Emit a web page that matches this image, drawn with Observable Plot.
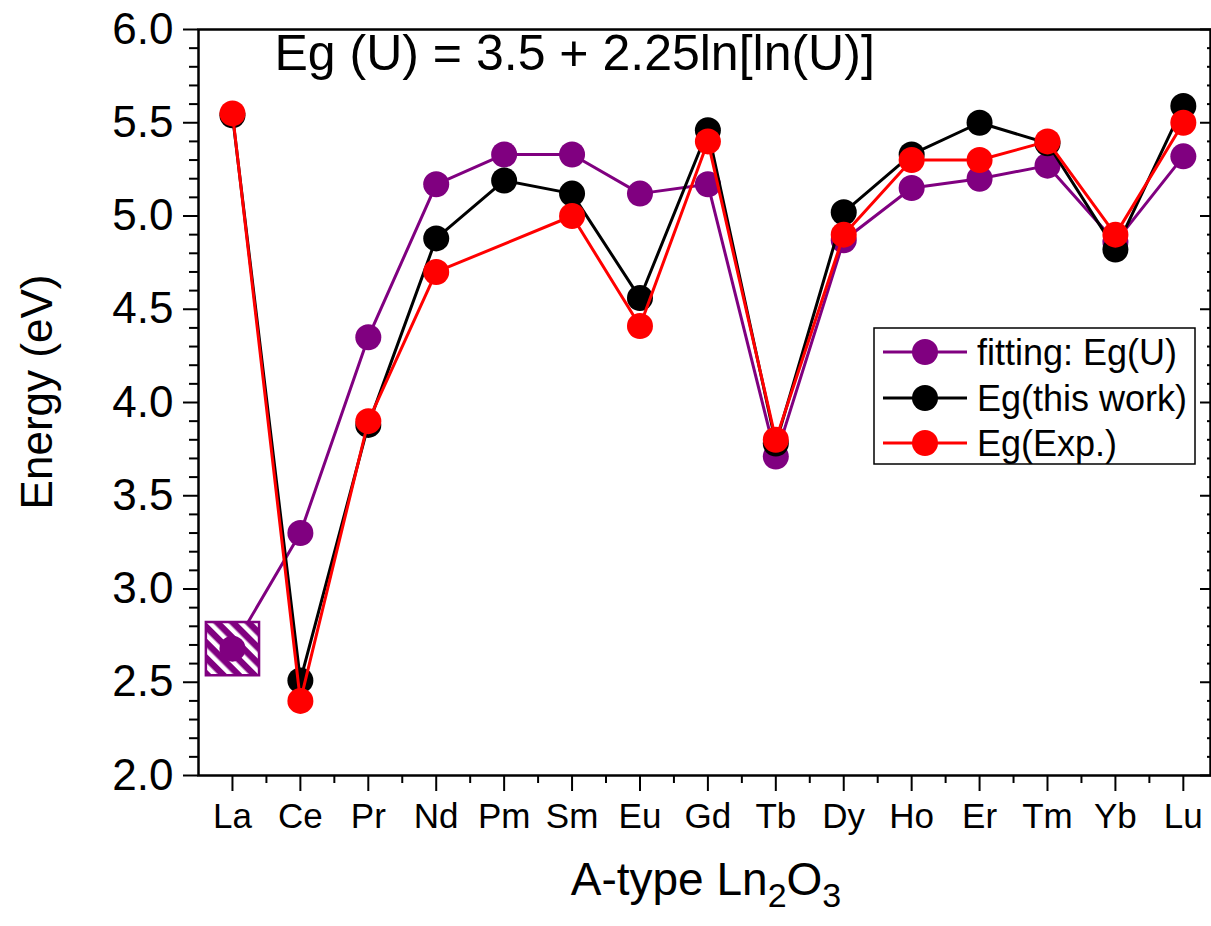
<!DOCTYPE html>
<html>
<head>
<meta charset="utf-8">
<script src="https://cdn.jsdelivr.net/npm/d3@7"></script>
<script src="https://cdn.jsdelivr.net/npm/@observablehq/plot@0.6"></script>
<style>
  html, body { margin: 0; padding: 0; background: #fff; }
  #chart svg { display: block; font-family: "Liberation Sans", Arial, sans-serif; }
</style>
</head>
<body>
<div id="chart"></div>
<script>
const elements = ["La","Ce","Pr","Nd","Pm","Sm","Eu","Gd","Tb","Dy","Ho","Er","Tm","Yb","Lu"];
const fitting  = [2.68, 3.30, 4.35, 5.17, 5.33, 5.33, 5.12, 5.17, 3.71, 4.87, 5.15, 5.20, 5.27, 4.86, 5.32];
const thisWork = [5.54, 2.51, 3.88, 4.88, 5.19, 5.12, 4.56, 5.46, 3.78, 5.02, 5.33, 5.50, 5.39, 4.82, 5.59];
const expVals  = [5.55, 2.40, 3.90, 4.70, null, 5.00, 4.41, 5.40, 3.80, 4.90, 5.30, 5.30, 5.40, 4.90, 5.50];
const seriesNames = ["fitting: Eg(U)", "Eg(this work)", "Eg(Exp.)"];
const seriesColors = ["#800080", "#000000", "#ff0000"];
const yMajor = [2.0, 2.5, 3.0, 3.5, 4.0, 4.5, 5.0, 5.5, 6.0];
const formula = "Eg (U) = 3.5 + 2.25ln[ln(U)]";

const idx = elements.map((_, i) => i);
const series = [fitting, thisWork, expVals].map((vals, s) =>
  idx.filter(i => vals[i] != null).map(i => ({i, el: elements[i], v: vals[i], s}))
);
const yMinor = d3.range(20, 61).map(d => d / 10).filter(d => !yMajor.some(m => Math.abs(m - d) < 1e-9));
const xMinor = d3.range(0, 14).map(i => i + 0.5);

const W = 1211, H = 926;
const marks = [];
series.forEach((data, s) => {
  marks.push(Plot.line(data, {x: "i", y: "v", stroke: seriesColors[s], strokeWidth: 3}));
  if (s === 0) {
    marks.push(Plot.dot(data.filter(d => d.el === "La"), {
      x: "i", y: "v", symbol: "square", r: 30, fill: seriesColors[0],
      stroke: seriesColors[0], strokeWidth: 2.5, className: "hatchsq"
    }));
  }
  marks.push(Plot.dot(data, {x: "i", y: "v", r: 13, fill: seriesColors[s], stroke: "none"}));
});

const chart = Plot.plot({
  width: W, height: H,
  marginLeft: 198, marginRight: 1, marginTop: 29, marginBottom: 151,
  style: {fontFamily: "'Liberation Sans', Arial, sans-serif", color: "#000", background: "#fff"},
  x: {type: "linear", domain: [-0.5, 14.4]},
  y: {domain: [2, 6]},
  marks: [
    ...marks,
    Plot.frame({stroke: "#000", strokeWidth: 2.5}),
    Plot.axisY(yMajor, {anchor: "left", tickSize: 15, tickPadding: 10, tickFormat: d3.format(".1f"), fontSize: 44, strokeWidth: 2, label: null}),
    Plot.axisY(yMinor, {anchor: "left", tickSize: 9, tickFormat: () => "", strokeWidth: 2, label: null}),
    Plot.axisY(yMajor, {anchor: "right", tickSize: 11, dx: -11, tickFormat: () => "", strokeWidth: 2, label: null}),
    Plot.axisY(yMinor, {anchor: "right", tickSize: 4, dx: -4, tickFormat: () => "", strokeWidth: 2, label: null}),
    Plot.axisX(idx, {anchor: "bottom", tickSize: 16, tickPadding: 12, tickFormat: i => elements[i], fontSize: 35, strokeWidth: 2, label: null}),
    Plot.axisX(xMinor, {anchor: "bottom", tickSize: 8, tickFormat: () => "", strokeWidth: 2, label: null}),
    Plot.text([formula], {frameAnchor: "top-left", dx: 76, dy: 5, fontSize: 50, textAnchor: "start", lineAnchor: "top", fill: "#000"})
  ]
});

document.getElementById("chart").appendChild(chart);
const svg = d3.select(chart);

const defs = svg.insert("defs", ":first-child");
const pat = defs.append("pattern").attr("id", "hatch").attr("patternUnits", "userSpaceOnUse")
  .attr("width", 11).attr("height", 11).attr("patternTransform", "rotate(-45)");
pat.append("rect").attr("width", 11).attr("height", 11).attr("fill", seriesColors[0]);
pat.append("rect").attr("x", 0).attr("width", 4.5).attr("height", 11).attr("fill", "#fff");
svg.selectAll(".hatchsq path").attr("fill", "url(#hatch)");

svg.append("text").attr("transform", "translate(52,392) rotate(-90)").attr("text-anchor", "middle")
  .attr("font-size", 44).attr("fill", "#000").text("Energy (eV)");
const xt = svg.append("text").attr("x", 706).attr("y", 895).attr("text-anchor", "middle")
  .attr("font-size", 46).attr("fill", "#000");
xt.append("tspan").text("A-type Ln");
xt.append("tspan").attr("font-size", 34).attr("dy", 12).text("2");
xt.append("tspan").attr("dy", -12).text("O");
xt.append("tspan").attr("font-size", 34).attr("dy", 12).text("3");

const lg = svg.append("g").attr("text-anchor", "start");
lg.append("rect").attr("x", 874).attr("y", 328).attr("width", 321).attr("height", 136)
  .attr("fill", "#fff").attr("stroke", "#000").attr("stroke-width", 1.5);
const rowsY = [352, 398, 443];
seriesNames.forEach((name, s) => {
  const y = rowsY[s];
  lg.append("line").attr("x1", 883).attr("x2", 967).attr("y1", y).attr("y2", y)
    .attr("stroke", seriesColors[s]).attr("stroke-width", 3);
  lg.append("circle").attr("cx", 925).attr("cy", y).attr("r", 13).attr("fill", seriesColors[s]);
  lg.append("text").attr("x", 977).attr("y", y + 13).attr("text-anchor", "start")
    .attr("font-size", 36).attr("fill", "#000").text(name);
});
</script>
</body>
</html>
